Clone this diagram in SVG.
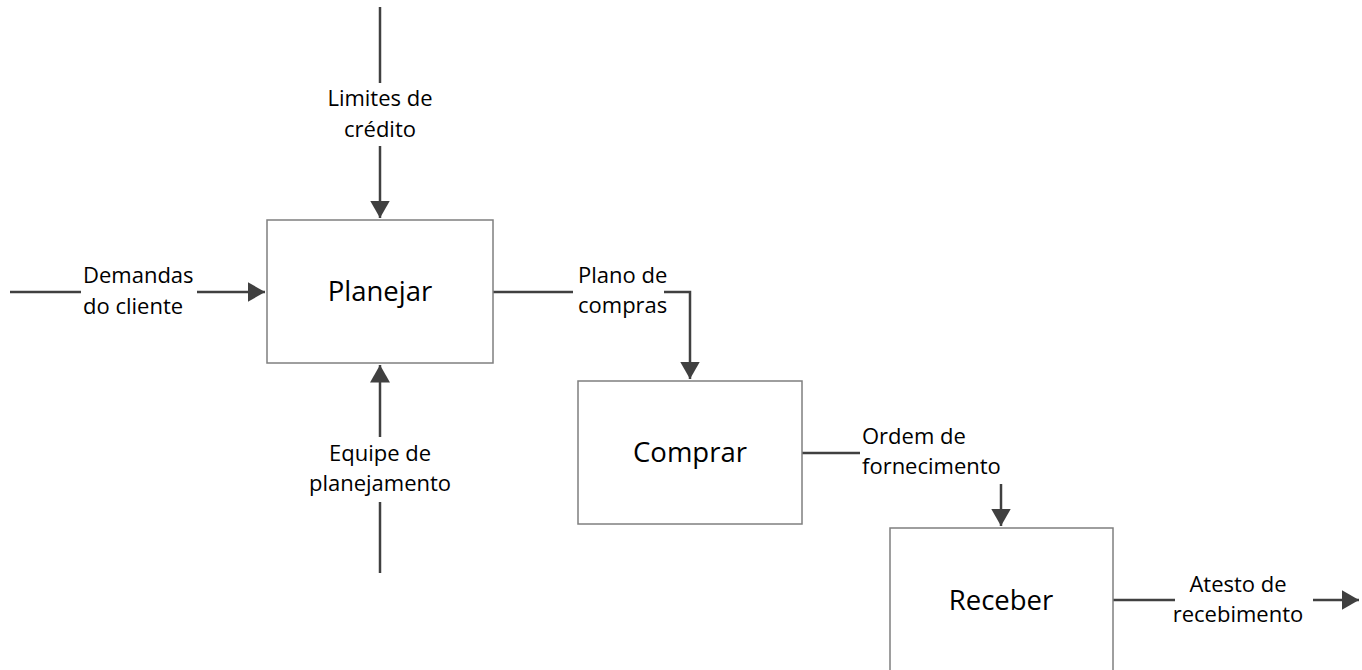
<svg xmlns="http://www.w3.org/2000/svg" width="1362" height="670" viewBox="0 0 1362 670">
<defs>
<marker id="ah" markerWidth="8" markerHeight="8" refX="7" refY="4" orient="auto" markerUnits="strokeWidth">
<path d="M0,0 L7,4 L0,8 Z" fill="#404040"/>
</marker>
</defs>
<style>
.box{fill:#fff;stroke:#7f7f7f;stroke-width:1.5}
.title{font-family:"Open Sans","Liberation Sans",sans-serif;font-size:27.5px;fill:#000;text-anchor:middle}
.lbl{font-family:"Open Sans","Liberation Sans",sans-serif;font-size:22px;fill:#000}
.c{text-anchor:middle}
.ln{fill:none;stroke:#404040;stroke-width:2.5}
</style>
<rect width="1362" height="670" fill="#fff"/>
<g id="connectors">
<line class="ln" x1="10" y1="292" x2="81" y2="292"/>
<line class="ln" x1="197" y1="292" x2="265" y2="292" marker-end="url(#ah)"/>
<line class="ln" x1="380" y1="7" x2="380" y2="83"/>
<line class="ln" x1="380" y1="146" x2="380" y2="218" marker-end="url(#ah)"/>
<line class="ln" x1="380" y1="573" x2="380" y2="502"/>
<line class="ln" x1="380" y1="437" x2="380" y2="365" marker-end="url(#ah)"/>
<line class="ln" x1="493" y1="292" x2="573" y2="292"/>
<polyline class="ln" points="664,292 690,292 690,379" marker-end="url(#ah)"/>
<line class="ln" x1="802" y1="453" x2="860" y2="453"/>
<line class="ln" x1="1001" y1="484" x2="1001" y2="526" marker-end="url(#ah)"/>
<line class="ln" x1="1113" y1="600" x2="1175" y2="600"/>
<line class="ln" x1="1313" y1="600" x2="1359" y2="600" marker-end="url(#ah)"/>
</g>
<g id="labels">
<text class="lbl" x="83" y="283">Demandas</text>
<text class="lbl" x="83" y="314">do cliente</text>
<text class="lbl c" x="380" y="106">Limites de</text>
<text class="lbl c" x="380" y="137">crédito</text>
<text class="lbl c" x="380" y="461">Equipe de</text>
<text class="lbl c" x="380" y="491">planejamento</text>
<text class="lbl" x="578" y="283">Plano de</text>
<text class="lbl" x="578" y="313">compras</text>
<text class="lbl" x="862" y="444">Ordem de</text>
<text class="lbl" x="862" y="474">fornecimento</text>
<text class="lbl c" x="1238" y="592">Atesto de</text>
<text class="lbl c" x="1238" y="622">recebimento</text>
</g>
<g id="planejar">
<rect class="box" x="267" y="220" width="226" height="143"/>
<text class="title" x="380" y="301">Planejar</text>
</g>
<g id="comprar">
<rect class="box" x="578" y="381" width="224" height="143"/>
<text class="title" x="690" y="462">Comprar</text>
</g>
<g id="receber">
<rect class="box" x="890" y="528" width="223" height="160"/>
<text class="title" x="1001" y="610">Receber</text>
</g>
</svg>
